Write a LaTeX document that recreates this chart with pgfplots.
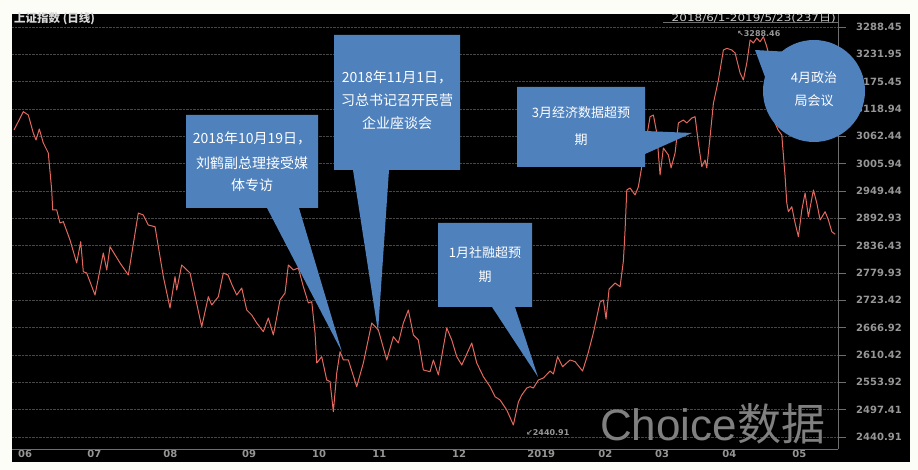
\documentclass[border=0pt]{standalone}
\usepackage{fontspec}
\usepackage{pgfplots}
\pgfplotsset{compat=1.18}
\newfontfamily\cjk{Noto Sans CJK SC}
\newfontfamily\deja{DejaVu Sans}
\newfontfamily\lib{Liberation Sans}
\definecolor{bgc}{RGB}{253,253,247}
\definecolor{linec}{RGB}{228,104,94}
\definecolor{callb}{RGB}{79,129,189}
\definecolor{tickc}{RGB}{150,150,150}
\definecolor{gridc}{RGB}{70,70,70}
\definecolor{wm}{RGB}{128,128,128}
\definecolor{framec}{RGB}{110,110,110}
\begin{document}
\begin{tikzpicture}[x=1pt,y=1pt]
\fill[bgc] (0,0) rectangle (918,470);
\fill[black] (12,8) rectangle (910,456);
\begin{axis}[
  at={(12pt,21pt)}, anchor=south west,
  scale only axis, width=826pt, height=427pt,
  xmin=-0.571, xmax=235.4, ymin=2416.1, ymax=3298.8,
  enlargelimits=false,
  axis line style={draw=none},
  ytick={2440.91,2497.41,2553.92,2610.42,2666.92,2723.42,2779.93,2836.43,2892.93,2949.44,3005.94,3062.44,3118.94,3175.45,3231.95,3288.45},
  yticklabels={2440.91,2497.41,2553.92,2610.42,2666.92,2723.42,2779.93,2836.43,2892.93,2949.44,3005.94,3062.44,3118.94,3175.45,3231.95,3288.45},
  ytick pos=right, yticklabel pos=right,
  tick align=outside, major tick length=8pt,
  ytick style={draw=framec, line width=0.6pt},
  xtick style={draw=none},
  xtick={1.1,20.9,42.6,65.1,85.1,102.3,125.1,146.6,166.9,183.1,202.3,222.3},
  xticklabels={06,07,08,09,10,11,12,2019,02,03,04,05},
  yticklabel style={font=\deja\bfseries\fontsize{10}{10}\selectfont, text=tickc, inner sep=0pt, xshift=10pt},
  xticklabel style={font=\deja\bfseries\fontsize{10}{10}\selectfont, text=tickc, anchor=north west, inner sep=0pt, yshift=7pt},
  ymajorgrids, grid style={gridc, densely dotted, line width=0.6pt},
]
\addplot[linec, line width=1pt, line join=round, mark=none] table {
x y
0 3075.5
2.66 3113.4
4.09 3106.5
5.51 3069.3
6.29 3054.9
7.23 3077.6
8.37 3048.7
9.8 3028.0
10.77 2951.5
11.06 2910.2
12.2 2910.2
13.14 2883.3
14.09 2886.0
16 2848.1
17.91 2800.6
19.06 2844.6
19.8 2782.6
20.77 2779.9
23.14 2734.4
25.51 2821.3
26.49 2786.1
27.43 2834.3
30.29 2800.6
32.66 2775.8
35.51 2903.9
36.94 2899.8
38.37 2879.1
40.29 2875.6
42.66 2772.3
44.57 2707.6
46 2772.3
46.49 2744.8
47.91 2796.5
50.29 2779.9
53.63 2668.9
55.51 2730.9
56.49 2713.8
58.37 2730.9
59.8 2779.9
61.14 2775.8
62.29 2755.1
63.63 2734.4
65.06 2748.9
66.49 2703.4
67.91 2693.1
69.34 2676.6
71.23 2658.6
72.66 2686.9
74.09 2651.8
76 2724.1
77.43 2738.6
78.37 2796.5
79.8 2786.1
81.23 2790.3
82.66 2751.6
84.09 2717.9
85.06 2720.6
86 2655.9
86.49 2593.9
87.91 2606.9
89.34 2558.7
90.29 2555.2
91.23 2493.2
92.2 2573.2
93.14 2617.2
94.09 2600.1
95.51 2600.1
97.91 2544.9
99.8 2593.9
102.2 2676.6
104.09 2662.1
106.49 2600.1
108.37 2648.2
109.8 2635.2
111.23 2676.6
112.66 2703.4
114.09 2651.8
115.51 2641.4
116.94 2579.4
118.86 2575.9
119.8 2600.1
121.23 2569.1
123.63 2666.2
125.06 2641.4
126.49 2606.9
127.91 2589.7
130.77 2635.2
132.2 2593.9
134.09 2565.6
136 2544.9
137.43 2524.2
138.86 2517.4
140.77 2496.7
142.66 2465.7
144.09 2513.3
145.06 2527.7
146.49 2542.2
147.43 2544.9
148.37 2542.2
149.8 2558.7
151.23 2562.9
153.14 2577.3
154.09 2571.1
155.29 2606.9
156.71 2586.2
158.86 2600.1
160.29 2596.6
162.43 2577.3
163.86 2610.4
165.51 2655.9
167.43 2720.0
168.37 2724.1
169.14 2684.8
170 2746.8
171.71 2759.2
173.14 2751.6
174.09 2804.7
174.57 2868.8
175.06 2951.5
176 2955.6
177.43 2941.2
178.37 2958.3
179.34 2999.7
180.29 3041.0
181.71 3103.0
182.66 3106.5
183.63 3069.3
184.57 2982.5
185.51 3038.3
186.94 3023.8
187.71 2997.0
188.86 3028.0
189.8 3090.0
191.23 3096.2
192.2 3090.0
193.63 3100.3
194.57 3103.0
195.51 3048.7
196.49 2999.7
197.43 3013.5
197.91 2997.0
198.86 3061.7
199.8 3130.7
201.23 3178.9
202.66 3240.9
203.63 3244.4
205.06 3240.9
206 3234.7
207.43 3193.4
208.37 3178.9
209.34 3214.0
210.29 3261.6
211.23 3255.4
212.2 3265.7
213.14 3258.1
214.09 3268.4
215.06 3247.7
216 3220.2
216.71 3147.9
217.43 3090.0
218.29 3075.5
219.34 3065.2
220.29 2979.0
220.77 2924.6
221.23 2906.6
222.2 2917.0
223.14 2883.3
224.09 2855.0
225.06 2910.2
226 2945.3
226.94 2896.3
228.37 2951.5
229.34 2924.6
230.29 2889.5
231.71 2906.6
232.66 2889.5
233.63 2865.3
234.6 2860.0
};
\end{axis}
% frame lines
\draw[framec, line width=0.6pt] (838,456) -- (838,21);
\draw[framec, line width=0.6pt] (12,21) -- (838,21);
\draw[framec, line width=0.6pt] (663,448) -- (838,448);
% titles
\node[anchor=west, inner sep=0pt, text=white!85!black, font=\cjk\bfseries\fontsize{11.5}{11.5}\selectfont] at (14,451) {上证指数 (日线)};
\node[anchor=east, inner sep=0pt, text=white!80!black, xscale=1.2, font=\deja\fontsize{10}{10}\selectfont] at (836,452) {2018/6/1-2019/5/23(237{\cjk 日})};
% extreme annotations
\node[anchor=west, inner sep=0pt, text=tickc, font=\deja\bfseries\fontsize{8}{8}\selectfont] at (737,436) {↖3288.46};
\node[anchor=west, inner sep=0pt, text=tickc, font=\deja\bfseries\fontsize{8}{8}\selectfont] at (526,37) {↙2440.91};
% watermark
\node[anchor=base west, inner sep=0pt, text=wm] at (600,29) {\lib\fontsize{44}{44}\selectfont Choice\cjk 数据};
% callouts
\fill[callb] (186,355) -- (318,355) -- (318,262) -- (299,262) -- (342,118) -- (267,262) -- (186,262) -- cycle;
\fill[callb] (334,435) -- (460,435) -- (460,300) -- (389,300) -- (378,138) -- (353,300) -- (334,300) -- cycle;
\fill[callb] (438,247) -- (532,247) -- (532,163) -- (515,163) -- (538,93) -- (492,163) -- (438,163) -- cycle;
\fill[callb] (517,383) -- (645,383) -- (645,339) -- (692,337) -- (645,316) -- (645,303) -- (517,303) -- cycle;
\fill[callb] (755,420) -- (790,418) -- (768,385) -- cycle;
\fill[callb] (814,379) circle[radius=51];
\begin{scope}[every node/.style={inner sep=0pt, text=white, font=\cjk\fontsize{14}{14}\selectfont}]
\node at (252,332) {2018年10月19日，};
\node at (252,307) {刘鹤副总理接受媒};
\node at (252,285) {体专访};
\node at (397,393) {2018年11月1日，};
\node at (397,370) {习总书记召开民营};
\node at (397,347) {企业座谈会};
\end{scope}
\begin{scope}[every node/.style={inner sep=0pt, text=white, font=\cjk\fontsize{13}{13}\selectfont}]
\node at (485,217) {1月社融超预};
\node at (485,193) {期};
\node at (581,357) {3月经济数据超预};
\node at (581,330) {期};
\node at (814,392) {4月政治};
\node at (814,369) {局会议};
\end{scope}
\end{tikzpicture}
\end{document}
